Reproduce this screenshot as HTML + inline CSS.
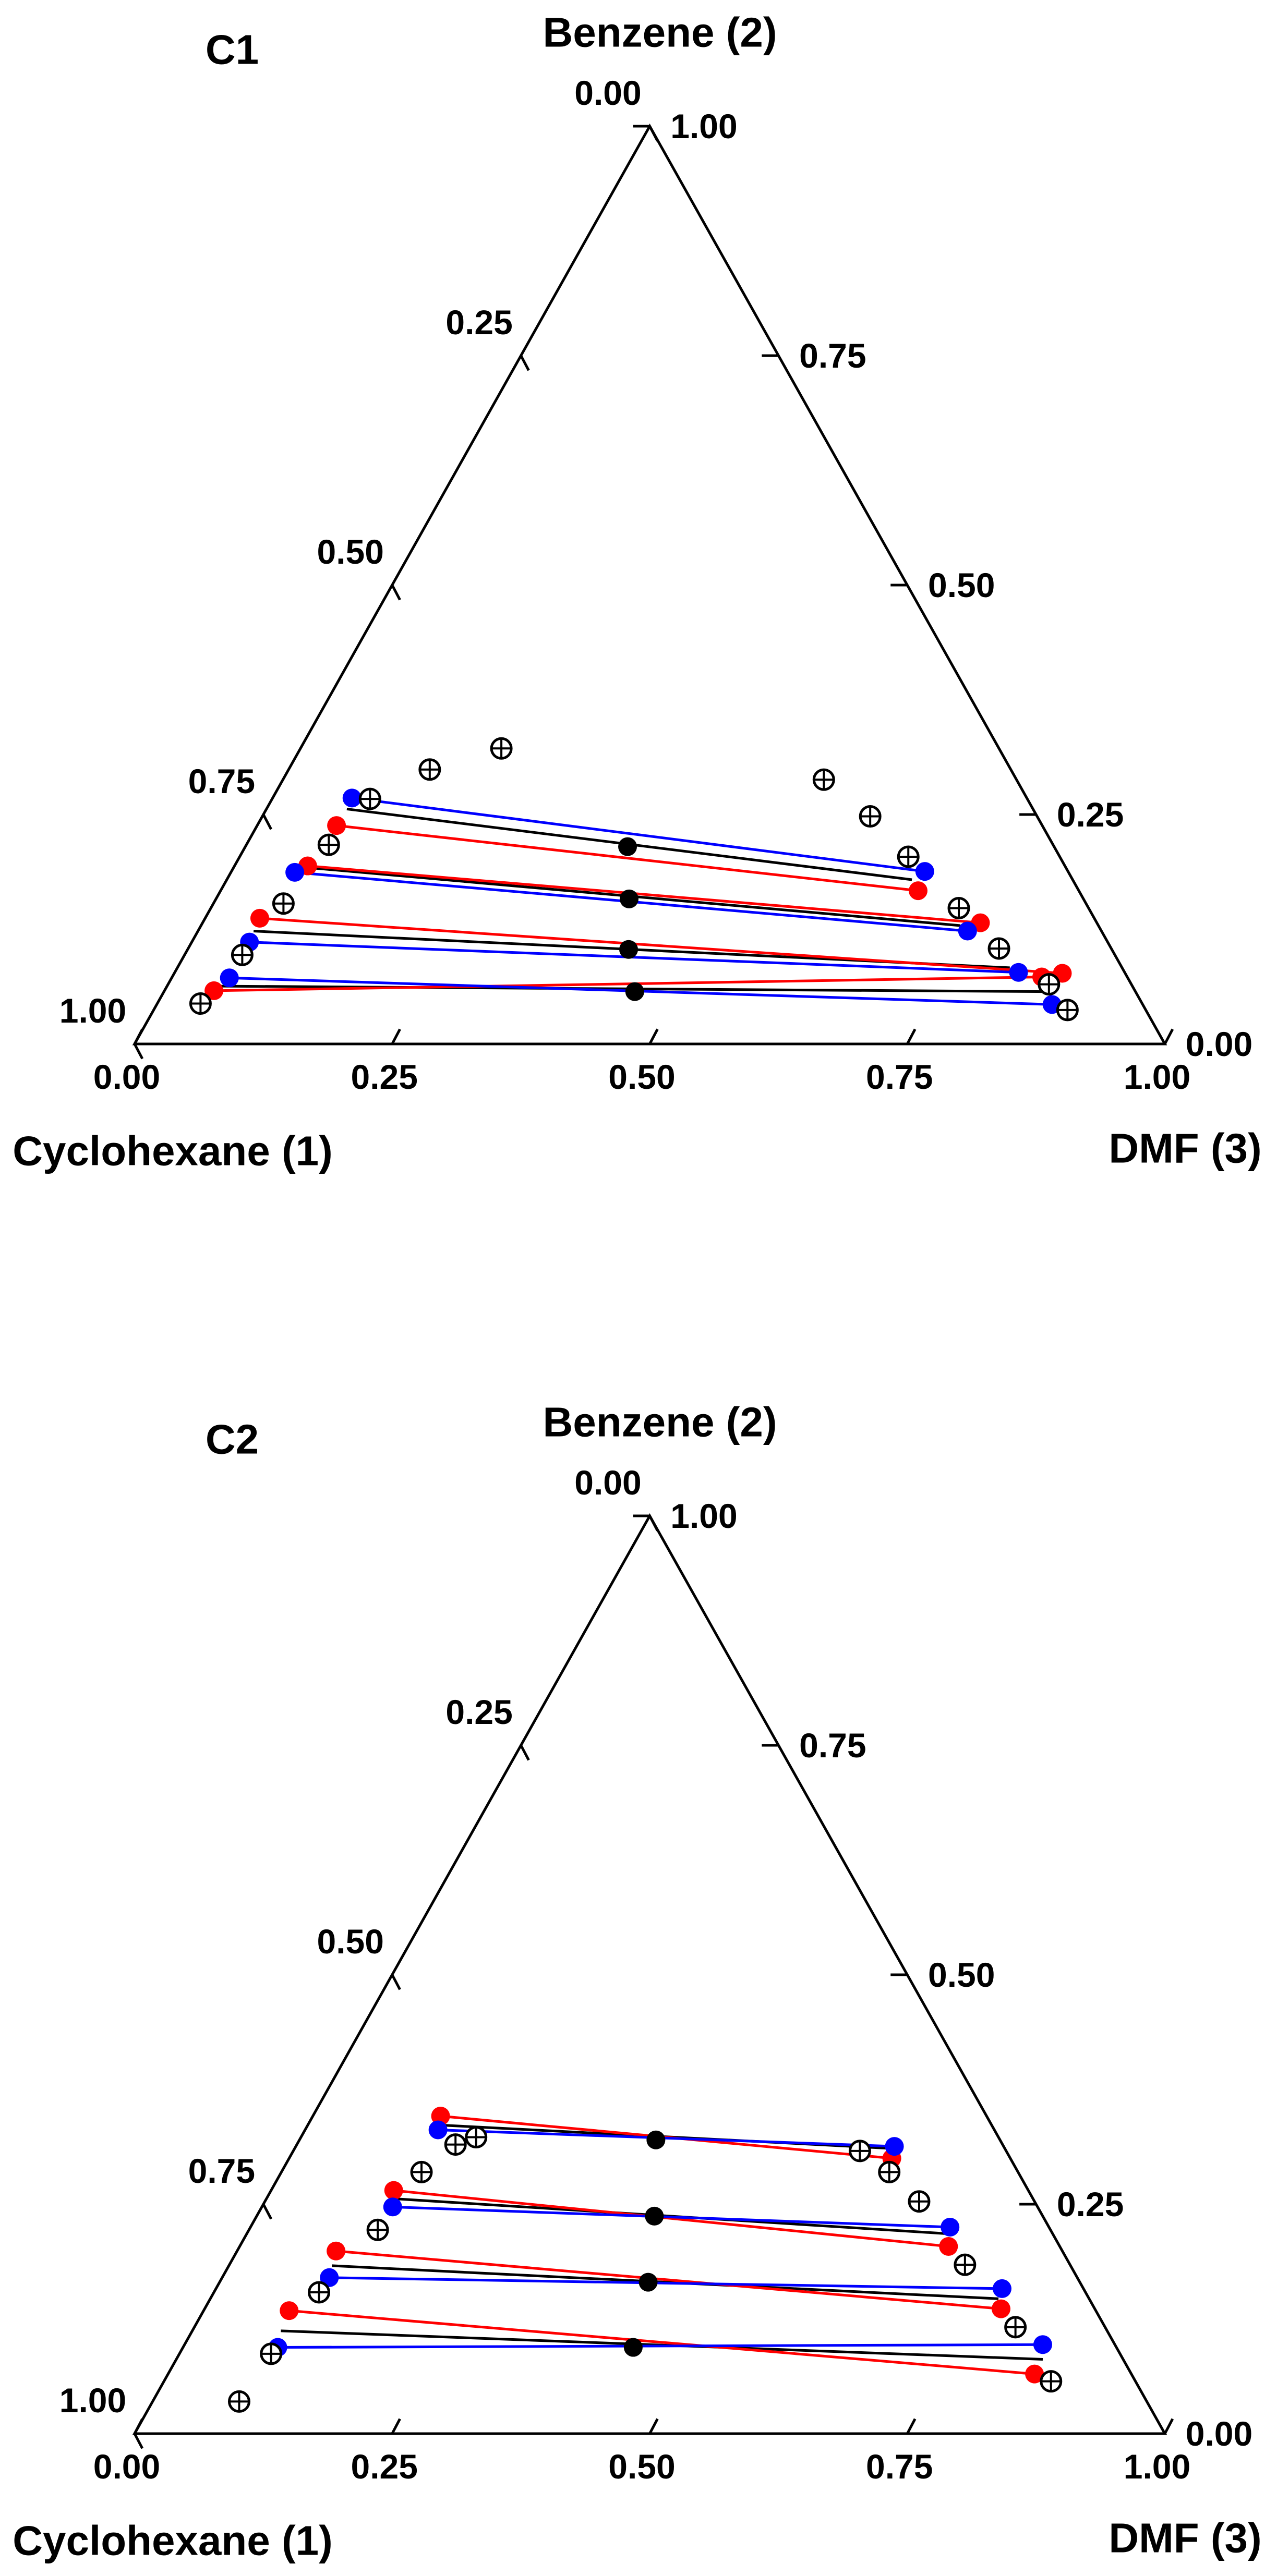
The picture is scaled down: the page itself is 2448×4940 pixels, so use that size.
<!DOCTYPE html>
<html>
<head>
<meta charset="utf-8">
<style>
html,body{margin:0;padding:0;background:#fff;}
svg{display:block;}
text{font-family:"Liberation Sans",Arial,sans-serif;font-weight:bold;fill:#000;}
</style>
</head>
<body>
<svg id="chart" width="2448" height="4940" viewBox="0 0 2448 4940" xmlns="http://www.w3.org/2000/svg"></svg>
<script>
// Tick values
const tickValues = [0, 0.25, 0.5, 0.75, 1];
const tickLabels = ["0.00", "0.25", "0.50", "0.75", "1.00"];

// C1 data: each point is [x2 benzene, x3 DMF]
const c1BlueLeft  = [[0.268,0.077],[0.187,0.062],[0.111,0.056],[0.072,0.056]];
const c1BlueRight = [[0.188,0.673],[0.123,0.747],[0.078,0.819],[0.043,0.869]];
const c1RedLeft   = [[0.238,0.077],[0.194,0.071],[0.137,0.053],[0.058,0.048]];
const c1RedRight  = [[0.167,0.677],[0.132,0.755],[0.077,0.862],[0.073,0.844]];
const c1BlackLeft = [[0.256,0.078],[0.192,0.074],[0.123,0.054],[0.063,0.052]];
const c1BlackRight= [[0.179,0.665],[0.129,0.737],[0.083,0.808],[0.057,0.857]];
const c1Feed      = [[0.215,0.371],[0.158,0.401],[0.103,0.428],[0.057,0.457]];
const c1Exp       = [[0.044,0.042],[0.097,0.056],[0.153,0.068],[0.217,0.080],[0.267,0.095],[0.299,0.137],[0.322,0.195],
                     [0.288,0.525],[0.248,0.590],[0.204,0.649],[0.148,0.726],[0.104,0.787],[0.065,0.855],[0.037,0.887]];

// C2 data
const c2BlueLeft  = [[0.331,0.129],[0.247,0.127],[0.170,0.104],[0.094,0.092]];
const c2BlueRight = [[0.313,0.581],[0.225,0.679],[0.158,0.763],[0.097,0.833]];
const c2RedLeft   = [[0.346,0.124],[0.265,0.119],[0.199,0.096],[0.134,0.083]];
const c2RedRight  = [[0.300,0.585],[0.204,0.688],[0.136,0.773],[0.065,0.841]];
const c2BlackLeft = [[0.336,0.132],[0.256,0.124],[0.183,0.100],[0.112,0.086]];
const c2BlackRight= [[0.311,0.575],[0.218,0.678],[0.147,0.765],[0.081,0.841]];
const c2Feed      = [[0.320,0.346],[0.237,0.386],[0.165,0.416],[0.094,0.437]];
const c2Exp       = [[0.035,0.084],[0.087,0.089],[0.154,0.102],[0.222,0.125],[0.285,0.136],[0.315,0.154],[0.323,0.170],
                     [0.308,0.550],[0.285,0.590],[0.253,0.635],[0.184,0.714],[0.116,0.797],[0.057,0.861]];

const NS = "http://www.w3.org/2000/svg";
const svg = document.getElementById("chart");
const W = 1975, H = 1760;

function mk(tag, attrs, parent){
  const e = document.createElementNS(NS, tag);
  for (const k in attrs) e.setAttribute(k, attrs[k]);
  parent.appendChild(e);
  return e;
}

function drawPanel(name, dy, d){
  const BLx = 258, BLy = 2002 + dy;
  const px = (x2, x3) => BLx + (x3 + x2 / 2) * W;
  const py = (x2) => BLy - x2 * H;
  const g = mk("g", {}, svg);
  
  

  // triangle
  const tri = mk("polygon", {points: `${px(0,0)},${py(0)} ${px(0,1)},${py(0)} ${px(1,0)},${py(1)}`, fill:"none", stroke:"#000", "stroke-width":5, "stroke-linejoin":"miter"}, g);
  
  

  const L = 32;
  tickValues.forEach((v, i) => {
    // left axis (cyclohexane x1=v): point with x2=1-v, x3=0; tick dir parallel to right edge (down-right)
    let x = px(1 - v, 0), y = py(1 - v);
    let t = mk("line", {x1:x, y1:y, x2:x + L*0.466, y2:y + L*0.885, stroke:"#000", "stroke-width":5}, g);
    
    
    let tx = mk("text", {x:x - 80, y:y - 64, "font-size":66, "text-anchor":"middle", "dominant-baseline":"central"}, g);
    tx.textContent = tickLabels[i];
    
    
    // right axis (benzene x2=v): x3 = 1-v; tick horizontal to left
    x = px(v, 1 - v); y = py(v);
    t = mk("line", {x1:x, y1:y, x2:x - L, y2:y, stroke:"#000", "stroke-width":5}, g);
    
    
    tx = mk("text", {x:x + 104, y:y, "font-size":66, "text-anchor":"middle", "dominant-baseline":"central"}, g);
    tx.textContent = tickLabels[i];
    
    
    // bottom axis (DMF x3=v): tick up-right parallel to left edge
    x = px(0, v); y = py(0);
    t = mk("line", {x1:x, y1:y, x2:x + L*0.466, y2:y - L*0.885, stroke:"#000", "stroke-width":5}, g);
    
    
    tx = mk("text", {x:x - 15, y:y + 63, "font-size":66, "text-anchor":"middle", "dominant-baseline":"central"}, g);
    tx.textContent = tickLabels[i];
    
    
  });

  const titles = [
    [name.toUpperCase(), 445, 95 + dy, 'panel-label'],
    ["Benzene (2)", 1265, 62 + dy, 'benzene-axis-title'],
    ["Cyclohexane (1)", 331, 2207 + dy, 'cyclohexane-axis-title'],
    ["DMF (3)", 2272, 2202 + dy, 'dmf-axis-title']
  ];
  titles.forEach(tt => {
    const e = mk("text", {x:tt[1], y:tt[2], "font-size":80, "text-anchor":"middle", "dominant-baseline":"central"}, g);
    e.textContent = tt[0];
    
    
  });

  // tie lines
  const series = [
    [d.blackL, d.blackR, "#000", 'tie-line-black'],
    [d.redL, d.redR, "#ff0000", 'tie-line-red'],
    [d.blueL, d.blueR, "#0000ff", 'tie-line-blue']
  ];
  series.forEach(s => {
    s[0].forEach((p, i) => {
      const q = s[1][i];
      const ln = mk("line", {x1:px(p[0],p[1]), y1:py(p[0]), x2:px(q[0],q[1]), y2:py(q[0]), stroke:s[2], "stroke-width":5}, g);
      
      
    });
  });
  // end dots
  [[d.redL, d.redR, "#ff0000", 'red-point'], [d.blueL, d.blueR, "#0000ff", 'blue-point']].forEach(s => {
    s[0].concat(s[1]).forEach(p => {
      const c = mk("circle", {cx:px(p[0],p[1]), cy:py(p[0]), r:18, fill:s[2]}, g);
      
      
    });
  });
  d.feed.forEach(p => {
    const c = mk("circle", {cx:px(p[0],p[1]), cy:py(p[0]), r:18, fill:"#000"}, g);
    
    
  });
  d.exp.forEach(p => {
    const cx = px(p[0],p[1]), cy = py(p[0]);
    const eg = mk("g", {}, g);
    
    
    mk("circle", {cx:cx, cy:cy, r:19, fill:"#fff", stroke:"#000", "stroke-width":5}, eg);
    mk("line", {x1:cx-19, y1:cy, x2:cx+19, y2:cy, stroke:"#000", "stroke-width":4}, eg);
    mk("line", {x1:cx, y1:cy-19, x2:cx, y2:cy+19, stroke:"#000", "stroke-width":4}, eg);
  });
}

drawPanel("c1", 0, {blueL:c1BlueLeft, blueR:c1BlueRight, redL:c1RedLeft, redR:c1RedRight, blackL:c1BlackLeft, blackR:c1BlackRight, feed:c1Feed, exp:c1Exp});
drawPanel("c2", 2665, {blueL:c2BlueLeft, blueR:c2BlueRight, redL:c2RedLeft, redR:c2RedRight, blackL:c2BlackLeft, blackR:c2BlackRight, feed:c2Feed, exp:c2Exp});
</script>
</body>
</html>
